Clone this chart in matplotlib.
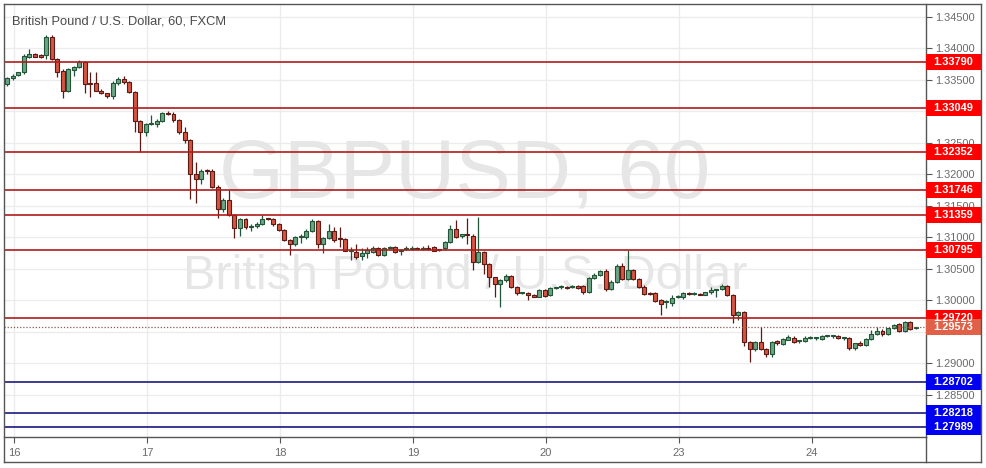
import numpy as np
import matplotlib
matplotlib.use('Agg')
import matplotlib.pyplot as plt
import matplotlib.transforms as mtransforms
from matplotlib.lines import Line2D
from matplotlib.patches import Rectangle

plt.rcParams['font.family'] = ['Liberation Sans', 'DejaVu Sans']

# GBP/USD hourly candles (FXCM), 15th 23:00 .. 24th ~19:00
opens = [1.33432, 1.33527, 1.33580, 1.33622, 1.33870, 1.33913, 1.33890, 1.33892, 1.34178, 1.33830,
         1.33648, 1.33330, 1.33659, 1.33710, 1.33790, 1.33440, 1.33448, 1.33330, 1.33289, 1.33250,
         1.33460, 1.33510, 1.33470, 1.33314, 1.32854, 1.32670, 1.32797, 1.32797, 1.32850, 1.32971,
         1.32960, 1.32865, 1.32670, 1.32548, 1.32008, 1.31924, 1.32060, 1.32060, 1.31806, 1.31447,
         1.31595, 1.31357, 1.31146, 1.31289, 1.31167, 1.31180, 1.31220, 1.31294, 1.31290, 1.31209,
         1.31120, 1.30960, 1.30892, 1.31000, 1.31000, 1.31103, 1.31262, 1.30892, 1.30997, 1.31110,
         1.30975, 1.30970, 1.30790, 1.30775, 1.30706, 1.30750, 1.30775, 1.30830, 1.30722, 1.30840,
         1.30855, 1.30790, 1.30820, 1.30820, 1.30830, 1.30825, 1.30840, 1.30855, 1.30800, 1.30830,
         1.30933, 1.31130, 1.31020, 1.31051, 1.31029, 1.30616, 1.30775, 1.30575, 1.30368, 1.30261,
         1.30325, 1.30394, 1.30219, 1.30120, 1.30114, 1.30080, 1.30060, 1.30167, 1.30087, 1.30200,
         1.30210, 1.30210, 1.30215, 1.30230, 1.30235, 1.30130, 1.30352, 1.30405, 1.30468, 1.30183,
         1.30298, 1.30548, 1.30336, 1.30484, 1.30336, 1.30220, 1.30110, 1.30114, 1.30000, 1.29980,
         1.29960, 1.30060, 1.30050, 1.30125, 1.30110, 1.30100, 1.30095, 1.30130, 1.30170, 1.30178,
         1.30235, 1.30087, 1.29770, 1.29813, 1.29336, 1.29225, 1.29336, 1.29225, 1.29146, 1.29350,
         1.29310, 1.29380, 1.29410, 1.29350, 1.29357, 1.29410, 1.29405, 1.29390, 1.29440, 1.29430,
         1.29430, 1.29400, 1.29400, 1.29241, 1.29330, 1.29290, 1.29389, 1.29468, 1.29520, 1.29468,
         1.29558, 1.29622, 1.29520, 1.29653, 1.29560]
highs = [1.33545, 1.33600, 1.33630, 1.33905, 1.33990, 1.33930, 1.33905, 1.34220, 1.34220, 1.33850,
         1.33670, 1.33690, 1.33730, 1.33820, 1.33800, 1.33632, 1.33632, 1.33350, 1.33300, 1.33480,
         1.33540, 1.33560, 1.33490, 1.33330, 1.32870, 1.32820, 1.32940, 1.32880, 1.32990, 1.33000,
         1.32990, 1.32880, 1.32750, 1.32560, 1.32203, 1.32090, 1.32080, 1.32080, 1.31830, 1.31620,
         1.31754, 1.31380, 1.31310, 1.31310, 1.31220, 1.31240, 1.31350, 1.31310, 1.31310, 1.31230,
         1.31140, 1.30980, 1.31030, 1.31050, 1.31130, 1.31290, 1.31280, 1.31010, 1.31210, 1.31170,
         1.31171, 1.30990, 1.30850, 1.30890, 1.30830, 1.30850, 1.30860, 1.30850, 1.30850, 1.30870,
         1.30870, 1.30820, 1.30870, 1.30860, 1.30850, 1.30870, 1.30880, 1.30870, 1.30820, 1.30950,
         1.31200, 1.31270, 1.31060, 1.31305, 1.31050, 1.31330, 1.30790, 1.30590, 1.30380, 1.30340,
         1.30420, 1.30410, 1.30230, 1.30140, 1.30130, 1.30100, 1.30180, 1.30190, 1.30210, 1.30220,
         1.30240, 1.30230, 1.30240, 1.30250, 1.30250, 1.30380, 1.30440, 1.30490, 1.30500, 1.30320,
         1.30580, 1.30590, 1.30802, 1.30500, 1.30350, 1.30240, 1.30130, 1.30130, 1.30020, 1.30000,
         1.30080, 1.30080, 1.30140, 1.30140, 1.30130, 1.30120, 1.30140, 1.30210, 1.30190, 1.30265,
         1.30250, 1.30100, 1.29830, 1.29830, 1.29350, 1.29350, 1.29580, 1.29240, 1.29350, 1.29370,
         1.29400, 1.29460, 1.29430, 1.29370, 1.29430, 1.29440, 1.29420, 1.29460, 1.29460, 1.29450,
         1.29450, 1.29420, 1.29420, 1.29330, 1.29350, 1.29400, 1.29530, 1.29580, 1.29540, 1.29570,
         1.29630, 1.29640, 1.29680, 1.29670, 1.29580]
lows = [1.33410, 1.33500, 1.33560, 1.33600, 1.33850, 1.33860, 1.33855, 1.33830, 1.33820, 1.33550,
        1.33219, 1.33310, 1.33560, 1.33690, 1.33290, 1.33236, 1.33320, 1.33270, 1.33220, 1.33200,
        1.33420, 1.33440, 1.33290, 1.32680, 1.32362, 1.32610, 1.32780, 1.32760, 1.32830, 1.32940,
        1.32840, 1.32640, 1.32500, 1.31611, 1.31543, 1.31850, 1.32000, 1.31790, 1.31305, 1.31400,
        1.31340, 1.30987, 1.31030, 1.31140, 1.31100, 1.31150, 1.31200, 1.31270, 1.31180, 1.31100,
        1.30940, 1.30722, 1.30870, 1.30920, 1.30980, 1.31080, 1.30830, 1.30760, 1.30980, 1.30930,
        1.30855, 1.30780, 1.30640, 1.30660, 1.30640, 1.30680, 1.30750, 1.30700, 1.30700, 1.30820,
        1.30760, 1.30720, 1.30800, 1.30800, 1.30810, 1.30800, 1.30800, 1.30780, 1.30780, 1.30800,
        1.30910, 1.30990, 1.30990, 1.30900, 1.30484, 1.30590, 1.30420, 1.30219, 1.30060, 1.29900,
        1.30300, 1.30200, 1.30080, 1.30100, 1.30000, 1.30050, 1.30050, 1.30060, 1.30070, 1.30180,
        1.30190, 1.30180, 1.30200, 1.30180, 1.30100, 1.30120, 1.30340, 1.30390, 1.30150, 1.30160,
        1.30280, 1.30320, 1.30320, 1.30320, 1.30200, 1.30090, 1.30090, 1.29980, 1.29770, 1.29880,
        1.29920, 1.30040, 1.30030, 1.30090, 1.30090, 1.30080, 1.30080, 1.30110, 1.30050, 1.30160,
        1.30070, 1.29638, 1.29690, 1.29270, 1.29030, 1.29200, 1.29210, 1.29100, 1.29100, 1.29300,
        1.29290, 1.29370, 1.29320, 1.29330, 1.29340, 1.29390, 1.29380, 1.29380, 1.29420, 1.29410,
        1.29390, 1.29380, 1.29220, 1.29220, 1.29270, 1.29270, 1.29370, 1.29450, 1.29440, 1.29450,
        1.29540, 1.29500, 1.29500, 1.29530, 1.29550]
closes = [1.33527, 1.33568, 1.33622, 1.33881, 1.33913, 1.33870, 1.33870, 1.34178, 1.33833, 1.33632,
          1.33330, 1.33670, 1.33710, 1.33780, 1.33432, 1.33432, 1.33330, 1.33289, 1.33250, 1.33457,
          1.33510, 1.33470, 1.33314, 1.32854, 1.32670, 1.32797, 1.32797, 1.32850, 1.32971, 1.32960,
          1.32865, 1.32670, 1.32548, 1.32008, 1.31924, 1.32056, 1.32050, 1.31806, 1.31447, 1.31595,
          1.31357, 1.31146, 1.31289, 1.31162, 1.31190, 1.31220, 1.31289, 1.31289, 1.31209, 1.31120,
          1.30960, 1.30892, 1.31003, 1.31010, 1.31103, 1.31262, 1.30892, 1.30997, 1.31110, 1.30960,
          1.30970, 1.30790, 1.30790, 1.30695, 1.30750, 1.30802, 1.30830, 1.30722, 1.30840, 1.30855,
          1.30775, 1.30800, 1.30830, 1.30830, 1.30825, 1.30835, 1.30820, 1.30790, 1.30795, 1.30933,
          1.31130, 1.31003, 1.31051, 1.31040, 1.30616, 1.30775, 1.30575, 1.30368, 1.30257, 1.30325,
          1.30394, 1.30219, 1.30114, 1.30120, 1.30087, 1.30060, 1.30167, 1.30077, 1.30193, 1.30200,
          1.30210, 1.30200, 1.30215, 1.30200, 1.30130, 1.30352, 1.30405, 1.30468, 1.30183, 1.30298,
          1.30548, 1.30336, 1.30484, 1.30336, 1.30220, 1.30103, 1.30100, 1.29998, 1.29940, 1.29980,
          1.30045, 1.30060, 1.30125, 1.30103, 1.30110, 1.30095, 1.30130, 1.30170, 1.30170, 1.30235,
          1.30087, 1.29770, 1.29813, 1.29336, 1.29225, 1.29336, 1.29225, 1.29146, 1.29336, 1.29320,
          1.29384, 1.29425, 1.29336, 1.29350, 1.29410, 1.29410, 1.29405, 1.29442, 1.29440, 1.29430,
          1.29400, 1.29400, 1.29241, 1.29320, 1.29290, 1.29389, 1.29468, 1.29520, 1.29468, 1.29558,
          1.29611, 1.29520, 1.29653, 1.29548, 1.29573]

day_labels = ['16', '17', '18', '19', '20', '23', '24']
resistance = [1.33790, 1.33049, 1.32352, 1.31746, 1.31359, 1.30795, 1.29720]
support = [1.28702, 1.28218, 1.27989]
last_price = 1.29573
grid_prices = [1.345, 1.340, 1.335, 1.330, 1.325, 1.320, 1.315, 1.310,
               1.305, 1.300, 1.295, 1.290, 1.285, 1.280]
# labels that are fully covered by the level boxes are not shown
label_prices = [1.345, 1.340, 1.335, 1.325, 1.320, 1.315, 1.310,
                1.305, 1.300, 1.290, 1.285]

W, H = 986, 468
fig = plt.figure(figsize=(W / 100, H / 100), dpi=100)
# plot area in pixels: x 4..925.7, y 4..437
ax = fig.add_axes([4 / W, (H - 437) / H, 921.7 / W, 433 / H])
ax.set_xlim(-0.6, 165.8)
ax.set_ylim(1.278333, 1.347063)

o = np.array(opens); h = np.array(highs); l = np.array(lows); c = np.array(closes)
x = np.arange(len(o))
up = c >= o
body_lo = np.minimum(o, c)
body_h = np.maximum(np.abs(c - o), 0.00016)

# wicks then bodies
ax.vlines(x[up], l[up], h[up], color='#225437', lw=0.9, zorder=3)
ax.vlines(x[~up], l[~up], h[~up], color='#5b1a13', lw=0.9, zorder=3)
ax.bar(x[up], body_h[up], bottom=body_lo[up], width=0.72, color='#6ba583',
       edgecolor='#225437', linewidth=0.8, zorder=4)
ax.bar(x[~up], body_h[~up], bottom=body_lo[~up], width=0.72, color='#d75442',
       edgecolor='#5b1a13', linewidth=0.8, zorder=4)

# grid
day_pos = [1.2 + 24 * k for k in range(len(day_labels))]
for p in grid_prices:
    ax.axhline(p, color='#ececec', lw=1, zorder=0)
for d in day_pos:
    ax.axvline(d, color='#ececec', lw=1, zorder=0)

# watermark
ax.text(0.5, 0.605, 'GBPUSD, 60', transform=ax.transAxes, ha='center', va='center',
        fontsize=60, color='#e6e6e6', zorder=1)
ax.text(0.5, 0.37, 'British Pound / U.S. Dollar', transform=ax.transAxes, ha='center',
        va='center', fontsize=35, color='#e6e6e6', zorder=1)

# level lines
for lv in resistance:
    ax.axhline(lv, color='#b21b1b', lw=1.2, zorder=5)
for lv in support:
    ax.axhline(lv, color='#1a1a80', lw=1.2, zorder=5)
ax.axhline(last_price, color='#8a5a50', lw=0.9, ls=(0, (1, 1.5)), zorder=5)

# axes styling
for s in ['left', 'top']:
    ax.spines[s].set_visible(False)
for s in ['right', 'bottom']:
    ax.spines[s].set_color('#555555')
    ax.spines[s].set_linewidth(1)
ax.yaxis.tick_right()
ax.set_yticks(label_prices)
ax.set_yticklabels([f'{p:.5f}' for p in label_prices])
ax.tick_params(axis='y', length=4, width=0.8, color='#555555', labelcolor='#6a6a6a',
               labelsize=7.9, pad=3)
ax.set_xticks(day_pos)
ax.set_xticklabels(day_labels)
ax.tick_params(axis='x', length=4, width=0.8, color='#555555', labelcolor='#6a6a6a',
               labelsize=8, pad=4)

# price boxes on right axis
trans = mtransforms.blended_transform_factory(fig.transFigure, ax.transData)
half = 8 / 6300
boxes = [(lv, '#ff0000') for lv in resistance] + [(lv, '#0000f0') for lv in support]
boxes.append((last_price, '#e06048'))
for lv, col in boxes:
    ax.add_patch(Rectangle((925.7 / W, lv - half), (981 - 925.7) / W, 2 * half,
                           transform=trans, facecolor=col, edgecolor='none',
                           clip_on=False, zorder=6))
    ax.text(933 / W, lv, f'{lv:.5f}', transform=trans, color='white', fontweight='bold',
            fontsize=7.9, ha='left', va='center', clip_on=False, zorder=7)

# outer frame and right axis column
frame = '#555555'
for xs, ys in [([4, 981], [4, 4]), ([4, 981], [462, 462]), ([4, 4], [4, 462]),
               ([981, 981], [4, 462]), ([925.7, 925.7], [437, 462])]:
    fig.add_artist(Line2D([v / W for v in xs], [1 - v / H for v in ys],
                          color=frame, lw=1))

# title
fig.text(12 / W, 1 - 21.7 / H, 'British Pound / U.S. Dollar, 60, FXCM', fontsize=9.3,
         color='#4a4a4a', ha='left', va='center')

fig.savefig('out.png', dpi=100)
